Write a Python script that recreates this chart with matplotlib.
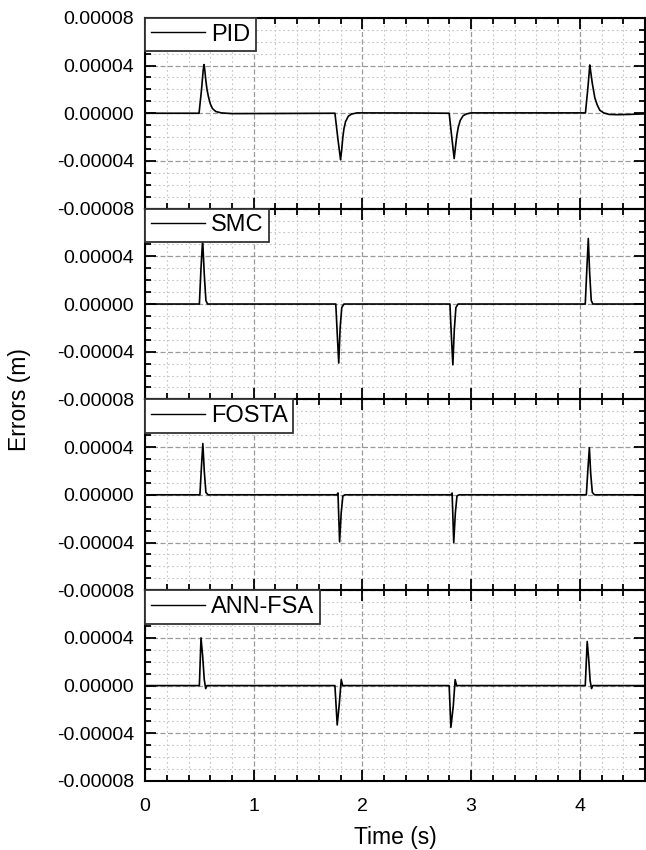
import matplotlib
matplotlib.use("Agg")
import matplotlib.pyplot as plt
from matplotlib.lines import Line2D
from matplotlib.ticker import FixedLocator, MultipleLocator

plt.rcParams['font.family'] = ['Liberation Sans', 'DejaVu Sans']

# ---- data (time in s, error in m) ----
methods = ["PID", "SMC", "FOSTA", "ANN-FSA"]

pid_t = [0.0, 0.497, 0.52, 0.535, 0.543, 0.55, 0.56, 0.57, 0.583, 0.60, 0.62, 0.65, 0.70, 0.80, 1.2,
         1.747, 1.775, 1.799, 1.81, 1.82, 1.83, 1.845, 1.87, 1.90, 1.95, 2.5,
         2.798, 2.822, 2.844, 2.855, 2.868, 2.881, 2.90, 2.927, 2.96, 3.0,
         4.052, 4.075, 4.092, 4.10, 4.115, 4.138, 4.16, 4.184, 4.22, 4.27, 4.35, 4.45, 4.6]
pid_e = [0.0, 0.0, 20e-6, 36e-6, 40.8e-6, 36e-6, 27e-6, 20e-6, 14e-6, 8e-6, 4e-6, 1.5e-6, 0.3e-6, -0.3e-6, -0.2e-6,
         0.0, -22e-6, -39e-6, -30e-6, -20e-6, -13e-6, -7e-6, -2.5e-6, -0.7e-6, 0.3e-6, 0.2e-6,
         0.0, -20e-6, -38e-6, -29e-6, -19e-6, -12e-6, -6e-6, -2e-6, -0.5e-6, 0.3e-6,
         0.3e-6, 22e-6, 40.5e-6, 35e-6, 25e-6, 13e-6, 7e-6, 2.5e-6, 0.3e-6, -1e-6, -1.2e-6, -1e-6, -0.5e-6]

smc_t = [0.0, 0.50, 0.515, 0.53, 0.545, 0.56, 0.575,
         1.755, 1.77, 1.782, 1.795, 1.81, 1.83,
         2.805, 2.82, 2.832, 2.845, 2.86, 2.88,
         4.05, 4.065, 4.078, 4.09, 4.105, 4.12, 4.6]
smc_e = [0.0, 0.0, 30e-6, 54e-6, 25e-6, 3e-6, 0.0,
         0.0, -28e-6, -49.5e-6, -20e-6, -3e-6, 0.0,
         0.0, -30e-6, -51e-6, -22e-6, -3e-6, 0.0,
         0.0, 30e-6, 55e-6, 27e-6, 3e-6, 0.0, 0.0]

fosta_t = [0.0, 0.505, 0.52, 0.532, 0.545, 0.56, 0.58,
           1.765, 1.775, 1.79, 1.805, 1.82, 1.84,
           2.815, 2.825, 2.84, 2.855, 2.87, 2.89,
           4.06, 4.075, 4.088, 4.10, 4.115, 4.135, 4.6]
fosta_e = [0.0, 0.0, 25e-6, 43e-6, 20e-6, 2e-6, 0.0,
           0.0, 1.5e-6, -39.5e-6, -15e-6, -1e-6, 0.0,
           0.0, 1.5e-6, -40e-6, -15e-6, -1e-6, 0.0,
           0.0, 22e-6, 39.5e-6, 18e-6, 2e-6, 0.0, 0.0]

ann_t = [0.0, 0.50, 0.515, 0.53, 0.545, 0.558, 0.57,
         1.747, 1.768, 1.787, 1.805, 1.818,
         2.798, 2.814, 2.836, 2.853, 2.866,
         4.05, 4.068, 4.082, 4.095, 4.108, 4.12, 4.6]
ann_e = [0.0, 0.0, 40e-6, 25e-6, 5e-6, -2.5e-6, 0.0,
         0.0, -33e-6, -15.7e-6, 5e-6, 0.0,
         0.0, -35e-6, -17e-6, 5e-6, 0.0,
         0.0, 37e-6, 22e-6, 4e-6, -2.5e-6, 0.0, 0.0]

series_t = [pid_t, smc_t, fosta_t, ann_t]
series_e = [pid_e, smc_e, fosta_e, ann_e]

x_ticks = [0, 1, 2, 3, 4]
y_ticks = [-0.00008, -0.00004, 0.0, 0.00004, 0.00008]

fig, axes = plt.subplots(4, 1, figsize=(6.46, 8.5), dpi=100, sharex=True)
fig.subplots_adjust(left=0.2245, right=0.9985, top=0.979, bottom=0.0812, hspace=0)

for i, ax in enumerate(axes):
    ax.plot(series_t[i], series_e[i], color="black", lw=1.2, zorder=3)

    ax.set_xlim(0, 4.6)
    ax.set_ylim(-0.00008, 0.00008)
    ax.xaxis.set_major_locator(FixedLocator(x_ticks))
    ax.xaxis.set_minor_locator(MultipleLocator(0.2))
    ax.yaxis.set_major_locator(FixedLocator(y_ticks))
    ax.yaxis.set_minor_locator(MultipleLocator(0.00001))

    labels = [f"{v:.5f}" for v in y_ticks]
    if i > 0:
        labels[-1] = ""
    ax.set_yticklabels(labels)

    ax.grid(which="major", color="#9a9a9a", linestyle=(0, (4, 2)), linewidth=0.9)
    ax.grid(which="minor", color="#c4c4c4", linestyle=(0, (1.5, 2.5)), linewidth=0.8)
    ax.set_axisbelow(True)

    ax.tick_params(which="both", direction="in", top=True, right=True,
                   labelsize=14, pad=8, width=1.3)
    ax.tick_params(axis="x", which="both", pad=12)
    ax.tick_params(which="major", length=8)
    ax.tick_params(which="minor", length=4)
    for spine in ax.spines.values():
        spine.set_linewidth(1.5)

    leg = ax.legend([Line2D([], [], color="black", lw=1)], [methods[i]],
                    loc="upper left", borderaxespad=0, fancybox=False,
                    edgecolor="#333333", framealpha=1, fontsize=17,
                    handlelength=2.3, handletextpad=0.25, borderpad=0.24)
    leg.get_frame().set_linewidth(1.3)

axes[-1].set_xticklabels([str(v) for v in x_ticks])
axes[-1].set_xlabel("Time (s)", fontsize=16.5, labelpad=8)
fig.text(0.03, 0.53, "Errors (m)", rotation=90, fontsize=16.5, ha="center", va="center")

fig.savefig("out.png", dpi=100)
